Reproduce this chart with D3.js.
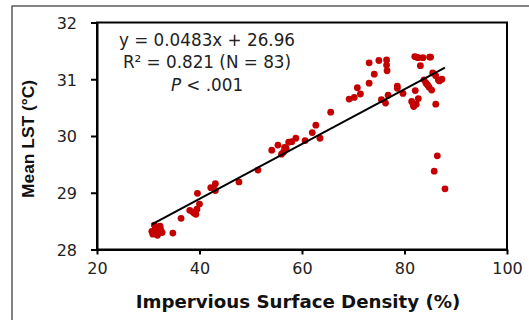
<!DOCTYPE html>
<html>
<head>
<meta charset="utf-8">
<script src="https://cdn.jsdelivr.net/npm/d3@7/dist/d3.min.js"></script>
<style>
  html, body { margin: 0; padding: 0; background: #fff; }
  svg { display: block; }
</style>
</head>
<body>
<svg id="chart" width="529" height="320"></svg>
<script>
// ---- data ----
const isd = [30.7, 31.4, 31.7, 32.0, 31.2, 32.3, 32.7, 31.8, 30.9, 31.5, 32.4,
  34.8, 36.4, 38.1, 38.7, 39.0, 39.3, 39.5, 39.6, 40.0, 42.2, 43.1, 43.1, 47.7,
  51.4, 54.1, 55.3, 56.4, 56.9, 56.0, 56.6, 57.4, 58.0, 58.8, 60.6, 62.0, 62.7,
  63.5, 65.6, 69.2, 70.2, 70.8, 71.4, 73.1, 73.1, 74.1, 75.0, 75.5, 76.5, 76.5,
  76.6, 76.3, 76.8, 78.6, 78.6, 79.7, 82.0, 82.3, 82.7, 83.6, 84.9, 85.1, 83.1,
  82.1, 81.4, 81.7, 81.8, 82.3, 82.7, 83.8, 84.2, 84.5, 84.8, 85.3, 85.5, 86.1,
  86.6, 86.8, 87.3, 86.1, 86.4, 85.8, 87.9];
const lst = [28.32, 28.38, 28.28, 28.34, 28.43, 28.41, 28.30, 28.25, 28.27, 28.35, 28.36,
  28.29, 28.55, 28.69, 28.66, 28.64, 28.62, 28.71, 28.99, 28.80, 29.09, 29.16, 29.04, 29.19,
  29.40, 29.75, 29.84, 29.72, 29.78, 29.68, 29.80, 29.89, 29.90, 29.96, 29.92, 30.06, 30.19,
  29.96, 30.42, 30.65, 30.68, 30.85, 30.74, 31.29, 30.93, 31.09, 31.33, 30.64, 31.34, 31.25,
  31.15, 30.58, 30.72, 30.88, 30.84, 30.75, 31.40, 31.39, 31.38, 31.38, 31.39, 31.39, 31.24,
  30.80, 30.61, 30.55, 30.52, 30.56, 30.66, 30.99, 30.93, 30.90, 30.86, 30.81, 31.11, 31.06,
  30.99, 30.97, 31.00, 30.56, 29.65, 29.38, 29.07];
const xTicks = [20, 40, 60, 80, 100];
const yTicks = [28, 29, 30, 31, 32];
const slope = 0.0483, intercept = 26.96;
const eqLines = ["y = 0.0483x + 26.96", "R\u00B2 = 0.821 (N = 83)", "P < .001"];
const xTitle = "Impervious Surface Density (%)";
const yTitle = "Mean LST (\u00B0C)";

// ---- drawing ----
const svg = d3.select("#chart");
const x = d3.scaleLinear().domain([20, 100]).range([97, 507]);
const y = d3.scaleLinear().domain([28, 32]).range([249.5, 22.5]);

// outer frame
svg.append("rect").attr("x", 12).attr("y", 6).attr("width", 700).attr("height", 500)
  .attr("fill", "none").attr("stroke", "#333").attr("stroke-width", 1.2);

// plot box
svg.append("rect").attr("x", x(20)).attr("y", y(32))
  .attr("width", x(100) - x(20)).attr("height", y(28) - y(32))
  .attr("fill", "none").attr("stroke", "#000").attr("stroke-width", 2);

const fmt = d3.format("d");
const xAxis = svg.append("g").attr("transform", `translate(0,${y(28)})`)
  .call(d3.axisBottom(x).tickValues(xTicks).tickFormat(fmt).tickSize(5).tickSizeOuter(0).tickPadding(8));
const yAxis = svg.append("g").attr("transform", `translate(${x(20)},0)`)
  .call(d3.axisLeft(y).tickValues(yTicks).tickFormat(fmt).tickSize(6).tickSizeOuter(0).tickPadding(14));
[xAxis, yAxis].forEach(g => {
  g.select(".domain").attr("stroke", "#000").attr("stroke-width", 2);
  g.selectAll(".tick line").attr("stroke", "#000").attr("stroke-width", 2);
  g.selectAll(".tick text").attr("fill", "#222")
    .style("font-family", "'DejaVu Sans', sans-serif").style("font-size", "16px");
});
yAxis.selectAll(".tick text").attr("dy", "0.36em");

// points
svg.append("g").selectAll("circle").data(isd).join("circle")
  .attr("cx", d => x(d)).attr("cy", (d, i) => y(lst[i])).attr("r", 3.4)
  .attr("fill", "#c40000");

// regression line
const ext = d3.extent(isd);
svg.append("line")
  .attr("x1", x(ext[0])).attr("y1", y(slope * ext[0] + intercept))
  .attr("x2", x(ext[1])).attr("y2", y(slope * ext[1] + intercept))
  .attr("stroke", "#000").attr("stroke-width", 2);

// equation text
const eq = svg.append("g").style("font-family", "'DejaVu Sans', sans-serif")
  .style("font-size", "16.8px").attr("fill", "#222").attr("text-anchor", "middle");
eq.append("text").attr("x", 207).attr("y", 45.5).text(eqLines[0]);
eq.append("text").attr("x", 207).attr("y", 67.8).text(eqLines[1]);
const t3 = eq.append("text").attr("x", 207).attr("y", 90.5);
t3.append("tspan").style("font-style", "italic").text(eqLines[2].slice(0, 1));
t3.append("tspan").text(eqLines[2].slice(1));

// axis titles
svg.append("text").attr("x", 298).attr("y", 308).attr("text-anchor", "middle")
  .style("font-family", "'DejaVu Sans', sans-serif").style("font-weight", "bold")
  .style("font-size", "18.2px").attr("fill", "#111").text(xTitle);
svg.append("text").attr("transform", `translate(34,139) rotate(-90)`).attr("text-anchor", "middle")
  .style("font-family", "'Liberation Sans', Arial, sans-serif").style("font-weight", "bold")
  .style("font-size", "17.4px").attr("fill", "#111").text(yTitle);
</script>
</body>
</html>
